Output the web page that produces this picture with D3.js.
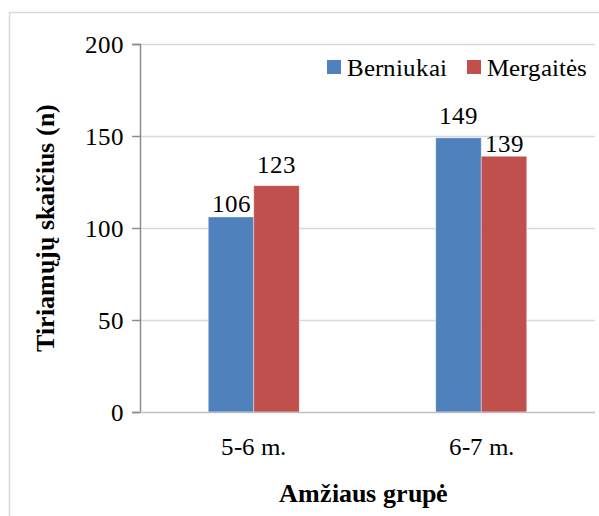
<!DOCTYPE html>
<html>
<head>
<meta charset="utf-8">
<script src="https://cdn.jsdelivr.net/npm/d3@7"></script>
<style>
  @font-face { font-family: "ChartSerif"; src: local("Liberation Serif"), local("LiberationSerif"), local("Liberation Serif Regular"), local("LiberationSerif-Regular"); font-weight: normal; }
  @font-face { font-family: "ChartSerif"; src: local("Liberation Serif Bold"), local("LiberationSerif-Bold"); font-weight: bold; }
  html, body { margin: 0; padding: 0; background: #fff; }
  #chart { display: block; }
  #chart text { font-family: "ChartSerif", "Times New Roman", "Liberation Serif" !important; fill: #000; }
</style>
</head>
<body>
<svg id="chart" width="599" height="516"></svg>
<script>
// Number of participants by age group and gender
const categories = ["5-6 m.", "6-7 m."];
const seriesNames = ["Berniukai", "Mergaitės"];
const berniukai = [106, 149];
const mergaites = [123, 139];
const yTicks = [0, 50, 100, 150, 200];
const seriesColors = ["#4F81BD", "#C0504D"];

const series = [berniukai, mergaites];

const svg = d3.select("#chart");

// outer chart frame
svg.append("rect")
  .attr("x", 9.5).attr("y", 12.5)
  .attr("width", 700).attr("height", 700)
  .attr("fill", "none")
  .attr("stroke", "#d9d9d9")
  .attr("stroke-width", 1.5);

const plot = { left: 140, right: 595, top: 44, bottom: 412 };

const y = d3.scaleLinear().domain([0, 200]).range([plot.bottom, plot.top]);
const x0 = d3.scaleBand().domain(categories).range([plot.left, plot.right]).padding(0);
const groupW = x0.bandwidth() * 0.4;
const x1 = d3.scaleBand().domain(seriesNames).range([0, groupW]).padding(0);

// gridlines
svg.append("g")
  .selectAll("line")
  .data(yTicks.filter(t => t > 0))
  .join("line")
  .attr("x1", plot.left).attr("x2", plot.right)
  .attr("y1", d => Math.round(y(d)) + 0.5).attr("y2", d => Math.round(y(d)) + 0.5)
  .attr("stroke", "#d9d9d9")
  .attr("stroke-width", 1.5);

// y axis
const yAxis = d3.axisLeft(y).tickValues(yTicks).tickSize(8).tickPadding(8);
const gy = svg.append("g")
  .attr("transform", `translate(${plot.left},0)`)
  .call(yAxis)
  .attr("font-family", null)
  .attr("font-size", 25);
gy.select(".domain").attr("stroke", "#8c8c8c").attr("stroke-width", 1.5);
gy.selectAll(".tick line").attr("stroke", "#8c8c8c").attr("stroke-width", 1.5);
gy.selectAll(".tick text").attr("font-size", 25).attr("dy", "0.34em");

// bars
const groups = svg.append("g")
  .selectAll("g")
  .data(categories)
  .join("g")
  .attr("transform", c => `translate(${x0(c) + (x0.bandwidth() - groupW) / 2},0)`);

groups.selectAll("rect")
  .data((c, i) => seriesNames.map((s, k) => ({ s, k, v: series[k][i] })))
  .join("rect")
  .attr("x", d => x1(d.s))
  .attr("width", x1.bandwidth())
  .attr("y", d => y(d.v))
  .attr("height", d => y(0) - y(d.v))
  .attr("fill", d => seriesColors[d.k])
  .attr("stroke", "#ffffff")
  .attr("stroke-opacity", 0.5)
  .attr("stroke-width", 0.8);

// value labels, nudged so neighbouring labels don't collide
const lift = { "Berniukai": [5, 14], "Mergaitės": [13, 4] };
groups.selectAll("text")
  .data((c, i) => seriesNames.map((s, k) => ({ s, k, i, v: series[k][i] })))
  .join("text")
  .attr("x", d => x1(d.s) + x1.bandwidth() / 2)
  .attr("y", d => y(d.v) - lift[d.s][d.i])
  .attr("text-anchor", "middle")
  .attr("font-size", 25)
  .text(d => d.v);

// x axis line
svg.append("line")
  .attr("x1", plot.left).attr("x2", plot.right)
  .attr("y1", plot.bottom + 0.5).attr("y2", plot.bottom + 0.5)
  .attr("stroke", "#bfbfbf")
  .attr("stroke-width", 1.5);

// category labels
svg.append("g")
  .selectAll("text")
  .data(categories)
  .join("text")
  .attr("x", c => x0(c) + x0.bandwidth() / 2)
  .attr("y", 455)
  .attr("text-anchor", "middle")
  .attr("font-size", 25)
  .text(c => c);

// axis titles
svg.append("text")
  .attr("x", (plot.left + plot.right) / 2 - 4)
  .attr("y", 502)
  .attr("text-anchor", "middle")
  .attr("font-size", 26)
  .attr("font-weight", "bold")
  .text("Amžiaus grupė");

svg.append("text")
  .attr("transform", `translate(54,${(plot.top + plot.bottom) / 2}) rotate(-90)`)
  .attr("text-anchor", "middle")
  .attr("font-size", 26)
  .attr("font-weight", "bold")
  .text("Tiriamųjų skaičius (n)");

// legend
const legendX = [327, 467];
const legend = svg.append("g")
  .selectAll("g")
  .data(seriesNames)
  .join("g")
  .attr("transform", (s, k) => `translate(${legendX[k]},60)`);
legend.append("rect")
  .attr("width", 14).attr("height", 14)
  .attr("fill", (s, k) => seriesColors[k]);
legend.append("text")
  .attr("x", 20).attr("y", 16)
  .attr("font-size", 25)
  .text(s => s);
</script>
</body>
</html>
